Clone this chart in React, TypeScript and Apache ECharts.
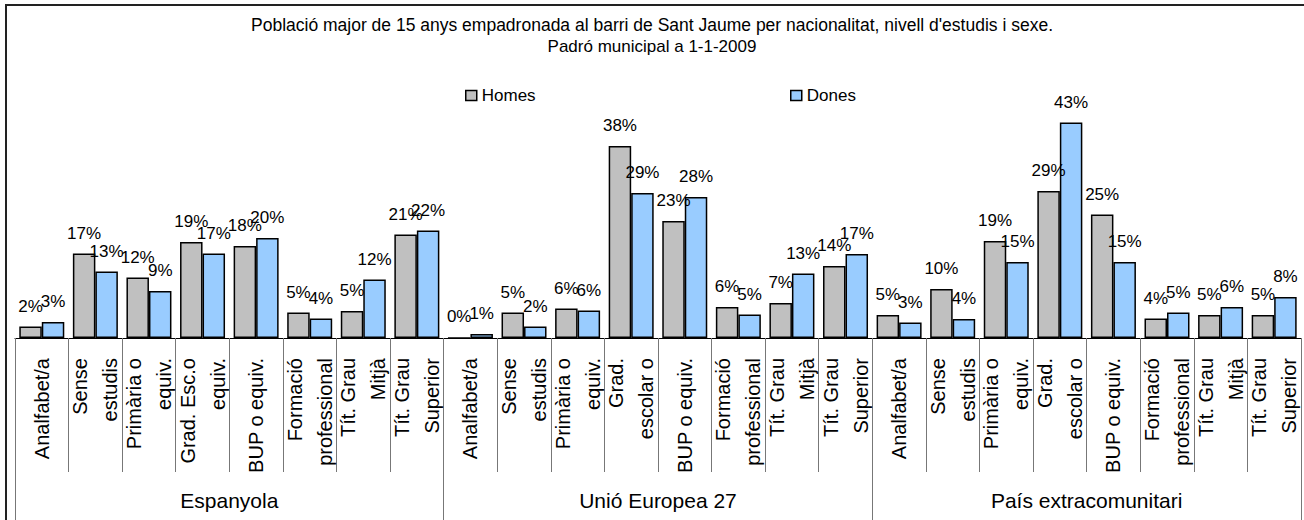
import React, { useEffect, useRef } from "react";
import * as echarts from "echarts";

const titleText =
  "Població major de 15 anys empadronada al barri de Sant Jaume per nacionalitat, nivell d'estudis i sexe.";
const subtitleText = "Padró municipal a 1-1-2009";

const groups = ["Espanyola", "Unió Europea 27", "País extracomunitari"];

const levelsEspanyola = [
  "Analfabet/a",
  "Sense\nestudis",
  "Primària o\nequiv.",
  "Grad. Esc.o\nequiv.",
  "BUP o equiv.",
  "Formació\nprofessional",
  "Tít. Grau\nMitjà",
  "Tít. Grau\nSuperior",
];
const levelsUE = [
  "Analfabet/a",
  "Sense\nestudis",
  "Primària o\nequiv.",
  "Grad.\nescolar o",
  "BUP o equiv.",
  "Formació\nprofessional",
  "Tít. Grau\nMitjà",
  "Tít. Grau\nSuperior",
];
const levelsExtra = [...levelsUE];

const categories = [...levelsEspanyola, ...levelsUE, ...levelsExtra];

const homes = [
  2.3, 16.9, 12.1, 19.2, 18.4, 5.1, 5.4, 20.7,
  0, 5.1, 5.9, 38.4, 23.4, 6.2, 7.0, 14.4,
  4.6, 9.8, 19.4, 29.4, 24.7, 3.9, 4.6, 4.6,
];
const dones = [
  3.2, 13.3, 9.4, 16.9, 20.0, 3.9, 11.7, 21.5,
  0.8, 2.3, 5.5, 29.0, 28.2, 4.7, 12.9, 16.8,
  3.1, 3.8, 15.2, 43.1, 15.2, 5.1, 6.2, 8.2,
];

const FONT = "'Liberation Sans', Arial, sans-serif";

export default function App() {
  const ref = useRef<HTMLDivElement>(null);

  useEffect(() => {
    if (!ref.current) return;
    const chart = echarts.init(ref.current, undefined, { renderer: "svg" });

    const labelCfg = {
      show: true,
      position: "top" as const,
      distance: 12,
      fontSize: 17,
      fontFamily: FONT,
      color: "#000",
      formatter: (p: any) => Math.round(p.value) + "%",
    };

    chart.setOption({
      animation: false,
      backgroundColor: "#fff",
      textStyle: { fontFamily: FONT },
      title: [
        {
          text: titleText,
          left: "center",
          top: 11,
          textStyle: { fontSize: 17.5, fontWeight: "normal", color: "#000", fontFamily: FONT },
        },
        {
          text: subtitleText,
          left: "center",
          top: 33,
          textStyle: { fontSize: 17, fontWeight: "normal", color: "#000", fontFamily: FONT },
        },
      ],
      legend: [
        {
          data: ["Homes"],
          left: 460,
          top: 82,
          icon: "rect",
          itemWidth: 11,
          itemHeight: 10,
          itemStyle: { borderColor: "#000", borderWidth: 1.5 },
          textStyle: { fontSize: 17, color: "#000", fontFamily: FONT },
        },
        {
          data: ["Dones"],
          left: 785,
          top: 82,
          icon: "rect",
          itemWidth: 11,
          itemHeight: 10,
          itemStyle: { borderColor: "#000", borderWidth: 1.5 },
          textStyle: { fontSize: 17, color: "#000", fontFamily: FONT },
        },
      ],
      grid: { left: 15, right: -5, top: 88, bottom: 182, containLabel: false },
      xAxis: [
        {
          type: "category",
          data: categories,
          position: "bottom",
          boundaryGap: true,
          axisLine: { show: true, lineStyle: { color: "#000", width: 1 } },
          axisTick: {
            show: true,
            interval: 0,
            length: 134,
            lineStyle: { color: "#777", width: 1 },
          },
          axisLabel: {
            interval: 0,
            rotate: 90,
            margin: 20,
            fontSize: 20,
            lineHeight: 30,
            color: "#000",
            fontFamily: FONT,
          },
        },
        {
          type: "category",
          data: groups,
          position: "bottom",
          boundaryGap: true,
          axisLine: { show: false },
          axisTick: {
            show: true,
            interval: 0,
            length: 190,
            lineStyle: { color: "#777", width: 1 },
          },
          axisLabel: {
            interval: 0,
            margin: 152,
            fontSize: 21,
            color: "#000",
            fontFamily: FONT,
          },
        },
      ],
      yAxis: {
        type: "value",
        min: 0,
        max: 50,
        show: false,
        splitLine: { show: false },
      },
      series: [
        {
          name: "Homes",
          type: "bar",
          data: homes,
          barWidth: 22.5,
          barGap: "0%",
          itemStyle: { color: "#C0C0C0", borderColor: "#000", borderWidth: 1.5 },
          label: labelCfg,
        },
        {
          name: "Dones",
          type: "bar",
          data: dones,
          barWidth: 22.5,
          barGap: "0%",
          itemStyle: { color: "#99CCFF", borderColor: "#000", borderWidth: 1.5 },
          label: labelCfg,
        },
      ],
      graphic: [
        {
          type: "rect",
          shape: { x: 6, y: 5, width: 1400, height: 600 },
          style: { fill: "none", stroke: "#222", lineWidth: 2 },
          silent: true,
        },
      ],
    });

    return () => chart.dispose();
  }, []);

  return (
    <div
      ref={ref}
      style={{ position: "fixed", left: 0, top: 0, width: 1304, height: 520 }}
    />
  );
}
